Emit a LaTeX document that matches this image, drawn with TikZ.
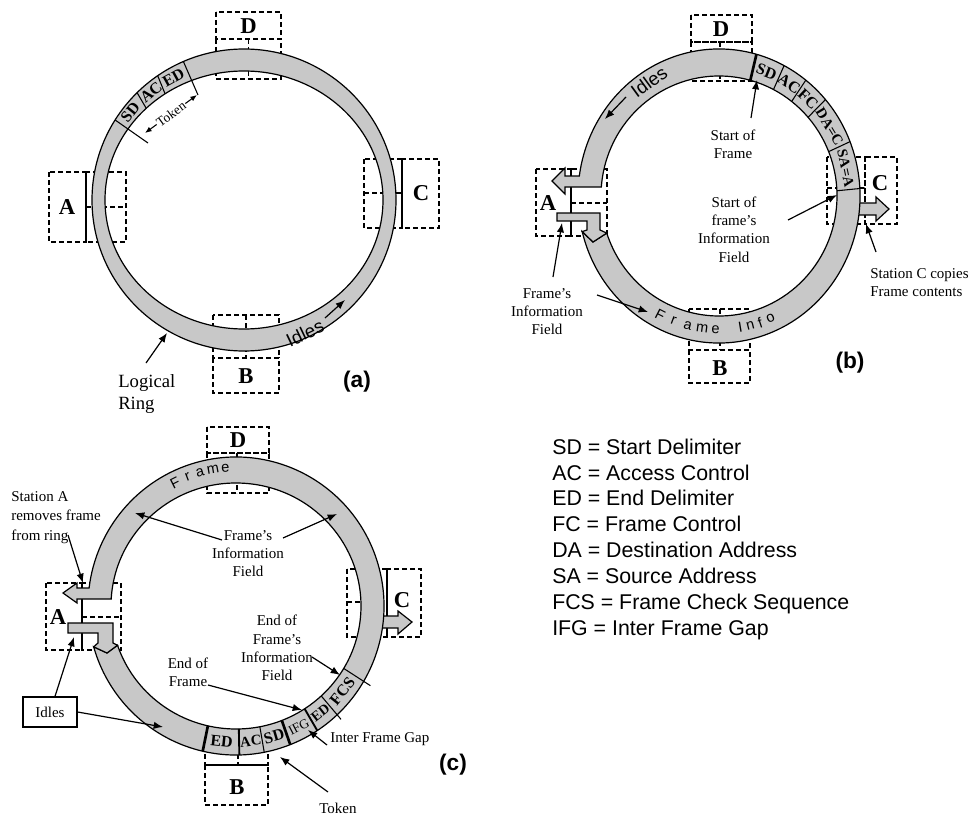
\documentclass[tikz,border=0pt]{standalone}
\usepackage{fontspec}
\setmainfont{Liberation Serif}
\setsansfont{Liberation Sans}
\usetikzlibrary{calc,arrows.meta}
\definecolor{ringgray}{RGB}{200,200,200}
\begin{document}
\begin{tikzpicture}[x=0.75pt,y=0.75pt,
 sbox/.style={draw, line width=0.9pt, dash pattern=on 3.5pt off 2.5pt},
 band/.style={fill=ringgray, draw=black, line width=0.9pt, line join=miter},
 segline/.style={line width=0.8pt},
 thickseg/.style={line width=2pt},
 stl/.style={font=\fontsize{17}{17}\selectfont\bfseries, inner sep=0pt},
 seg/.style={font=\fontsize{12}{12}\selectfont\bfseries, inner sep=0pt},
 lbl/.style={font=\fontsize{11.25}{13.75}\selectfont, align=center, inner sep=0pt},
 arr/.style={line width=0.9pt, -{Latex[length=7pt,width=5.5pt]}},
 tokarr/.style={line width=0.8pt, {Latex[length=5pt,width=4pt]}-{Latex[length=5pt,width=4pt]}},
 panel/.style={font=\sffamily\bfseries\fontsize{17}{17}\selectfont, inner sep=0pt},
 ringtxt/.style={font=\sffamily\fontsize{14}{14}\selectfont, inner sep=0pt},
 ltr/.style={font=\sffamily\fontsize{11}{11}\selectfont, inner sep=0pt},
 legline/.style={font=\sffamily\fontsize{16}{16}\selectfont, anchor=base west, inner sep=0pt},
]
\useasboundingbox (0,0) rectangle (972,-817);

%================ PANEL (a) ================
\coordinate (ca) at (244,-200);
% stations
\draw[sbox] (216,-12) rectangle (281,-39);
\draw[sbox] (216,-39) rectangle (281,-79);
\draw[sbox] (248.5,-39) -- (248.5,-79);
\draw[sbox] (49,-172) rectangle (86,-242);
\draw[sbox] (86,-172) rectangle (126,-242);
\draw[sbox] (86,-207) -- (126,-207);
\draw[sbox] (402,-159) rectangle (439,-228);
\draw[sbox] (364,-159) rectangle (402,-228);
\draw[sbox] (364,-193) -- (402,-193);
\draw[sbox] (213,-358) rectangle (279,-393);
\draw[sbox] (213,-315) rectangle (279,-358);
\draw[sbox] (246,-315) -- (246,-358);
% ring
\path[band, even odd rule] (ca) ellipse [x radius=152, y radius=151] (ca) ellipse [x radius=139, y radius=129];
% token segments
\draw[segline] ($(ca)+(148:152 and 151)$) -- (148,-143);
\draw[segline] ($(ca)+(134.7:139 and 129)$) -- ($(ca)+(134.7:152 and 151)$);
\draw[segline] ($(ca)+(124.6:139 and 129)$) -- ($(ca)+(124.6:152 and 151)$);
\draw[segline] ($(ca)+(113.5:152 and 151)$) -- (198,-95);
\node[seg, rotate=51.4] (aSD) at ($(ca)+(141.4:145.5 and 140)$) {SD};
\node[seg, rotate=39.7] (aAC) at ($(ca)+(129.7:145.5 and 140)$) {AC};
\node[seg, rotate=29] (aED) at ($(ca)+(119:145.5 and 140)$) {ED};
\coordinate (tokL) at (145,-133);
\coordinate (tokR) at (197,-95);
\draw[tokarr] (tokL) -- node[sloped, fill=white, inner sep=0.8pt, font=\fontsize{10}{10}\selectfont] (atok) {Token} (tokR);
% station labels
\node[stl] (aD) at (248.5,-26) {D};
\node[stl] (aA) at (67,-207) {A};
\node[stl] (aC) at (421,-193) {C};
\node[stl] (aB) at (246,-376) {B};
% idles
\node[ringtxt, rotate=25.5] (aidl) at (305,-333) {Idles};
\coordinate (aidlS) at (325,-318);
\coordinate (aidlT) at (345,-300);
\draw[arr] (aidlS) -- (aidlT);
% logical ring
\node[font=\fontsize{14}{16.5}\selectfont, align=left, anchor=west, inner sep=0pt] (alr) at (118,-394) {Logical\\Ring};
\coordinate (alrS) at (146,-363);
\coordinate (alrT) at (167,-333);
\draw[arr] (alrS) -- (alrT);
\node[panel] (pa) at (357,-382) {(a)};

%================ PANEL (b) ================
\coordinate (cb) at (719,-196);
\draw[sbox] (691,-15) rectangle (752,-42);
\draw[sbox] (691,-42) rectangle (752,-81);
\draw[sbox] (720,-42) -- (720,-81);
\draw[sbox] (689,-309) rectangle (750,-350);
\draw[sbox] (689,-350) rectangle (750,-383);
\draw[sbox] (720,-309) -- (720,-350);
\draw[sbox] (536,-169) rectangle (571,-236);
\draw[sbox] (571,-169) rectangle (607,-236);
\draw[sbox] (571,-203) -- (607,-203);
\draw[sbox] (865,-157) rectangle (897,-224);
\draw[sbox] (827,-157) rectangle (865,-224);
\draw[sbox] (827,-188) -- (865,-188);
% C copy arrow
\path[band] (845,-203) -- (876,-203) -- (876,-197) -- (889,-209) -- (876,-221) -- (876,-215) -- (845,-215) -- cycle;
% ring band
\path[band] ($(cb)+(194:141 and 147)$) coordinate (bo1)
  arc[start angle=194, end angle=532.2, x radius=141, y radius=147]
  -- (565,-176) -- (565,-168) -- (552,-181) -- (565,-194) -- (565,-187)
  -- ($(cb)+(535.7:118 and 120)$)
  arc[start angle=535.7, end angle=198, x radius=118, y radius=120] coordinate (bi1)
  -- (593,-242) -- cycle;
% stub from A
\path[band] (557,-213) -- (600,-213) -- (600,-230) -- (bi1) -- (593,-242) -- (bo1) -- (587,-230) -- (587,-221) -- (557,-221) -- cycle;
% frame segments
\draw[thickseg] ($(cb)+(74.6:118 and 120)$) -- ($(cb)+(74.6:141 and 147)$);
\foreach \a in {62.5,52,41,21.7}
  \draw[segline] ($(cb)+(\a:118 and 120)$) -- ($(cb)+(\a:141 and 147)$);
\draw[segline] ($(cb)+(2.5:118 and 120)$) -- (865,-188);
\node[seg, rotate=-21.5] (bSD) at ($(cb)+(68.5:129.5 and 133.5)$) {SD};
\node[seg, rotate=-32.8] (bAC) at ($(cb)+(57.2:129.5 and 133.5)$) {AC};
\node[seg, rotate=-43.5] (bFC) at ($(cb)+(46.5:129.5 and 133.5)$) {FC};
\node[seg, font=\fontsize{11}{11}\selectfont\bfseries, rotate=-58.7] (bDA) at ($(cb)+(31.3:129.5 and 133.5)$) {DA=C};
\node[seg, font=\fontsize{11}{11}\selectfont\bfseries, rotate=-78] (bSA) at ($(cb)+(12:129.5 and 133.5)$) {SA=A};
% Frame Info text
\foreach \ch/\ang [count=\i] in {F/243,r/249.5,a/256,m/262.5,e/268.5,I/279.5,n/284,f/288.5,o/293.5}
  \node[ltr, rotate=\ang+90] (fi\i) at ($(cb)+(\ang:129.5 and 133.5)$) {\ch};
% station labels
\node[stl] (bD) at (721,-29) {D};
\node[stl] (bB) at (720,-368) {B};
\node[stl] (bA) at (548,-203) {A};
\node[stl] (bC) at (880,-183) {C};
% idles
\node[ringtxt, rotate=36] (bidl) at (649,-82) {Idles};
\coordinate (bidlS) at (626,-97);
\coordinate (bidlT) at (605,-119);
\draw[arr] (bidlS) -- (bidlT);
% labels
\node[lbl] (bsof) at (733,-144) {Start of\\Frame};
\coordinate (bsofS) at (751,-118);
\coordinate (bsofT) at (757,-80);
\draw[arr] (bsofS) -- (bsofT);
\node[lbl] (bsofi) at (734,-229.5) {Start of\\frame's\\Information\\Field};
\coordinate (bsofiS) at (788,-220);
\coordinate (bsofiT) at (837,-195);
\draw[arr] (bsofiS) -- (bsofiT);
\node[lbl, align=left, anchor=west] (bscc) at (870,-282.5) {Station C copies\\Frame contents};
\coordinate (bsccS) at (876,-252);
\coordinate (bsccT) at (866,-224);
\draw[arr] (bsccS) -- (bsccT);
\node[lbl] (bfif) at (547,-311.5) {Frame's\\Information\\Field};
\coordinate (bfifS1) at (553,-277);
\coordinate (bfifT1) at (562,-223);
\draw[arr] (bfifS1) -- (bfifT1);
\coordinate (bfifS2) at (597,-295);
\coordinate (bfifT2) at (648,-312);
\draw[arr] (bfifS2) -- (bfifT2);
\node[panel] (pb) at (850,-363) {(b)};

%================ PANEL (c) ================
\coordinate (cc) at (236,-606);
\draw[sbox] (207,-427) rectangle (269,-453);
\draw[sbox] (207,-453) rectangle (269,-493);
\draw[sbox] (237,-453) -- (237,-493);
\draw[sbox] (205,-730) rectangle (268,-765);
\draw[sbox] (205,-765) rectangle (268,-805);
\draw[sbox] (238,-730) -- (238,-765);
\draw[sbox] (46,-583) rectangle (82,-650);
\draw[sbox] (82,-583) rectangle (121,-650);
\draw[sbox] (82,-617) -- (121,-617);
\draw[sbox] (387,-569) rectangle (421,-637);
\draw[sbox] (347,-569) rectangle (387,-637);
\draw[sbox] (347,-602) -- (387,-602);
% C arrow
\path[band] (370,-616) -- (398,-616) -- (398,-611) -- (412,-622) -- (398,-634) -- (398,-628) -- (370,-628) -- cycle;
% ring band
\path[band] ($(cc)+(195.9:148 and 149)$) coordinate (co1)
  arc[start angle=195.9, end angle=533.06, x radius=148, y radius=149]
  -- (77,-588) -- (77,-583) -- (63,-593) -- (77,-603) -- (77,-599)
  -- ($(cc)+(536.74:125 and 123)$)
  arc[start angle=536.74, end angle=198.6, x radius=125, y radius=123] coordinate (ci1)
  -- (107,-653) -- cycle;
% stub from A
\path[band] (68,-623) -- (113,-623) -- (113,-643) -- (ci1) -- (107,-653) -- (co1) -- (98,-643) -- (98,-633) -- (68,-633) -- cycle;
% segments
\draw[thickseg] ($(cc)+(257:125 and 123)$) -- ($(cc)+(257:148 and 149)$);
\draw[line width=1.4pt] ($(cc)+(271.3:125 and 123)$) -- ($(cc)+(271.3:148 and 149)$);
\draw[segline] ($(cc)+(281:125 and 123)$) -- ($(cc)+(281:148 and 149)$);
\draw[thickseg] ($(cc)+(291.5:125 and 123)$) -- ($(cc)+(291.5:148 and 149)$);
\draw[line width=1.4pt] ($(cc)+(303.3:125 and 123)$) -- ($(cc)+(303.3:148 and 149)$);
\draw[segline] ($(cc)+(313:125 and 123)$) -- ($(cc)+(313:154 and 155)$);
\draw[segline] ($(cc)+(329.5:125 and 123)$) -- ($(cc)+(329.5:156 and 157)$);
\node[seg, rotate=-6] (cED1) at ($(cc)+(264:136.5 and 136)$) {ED};
\node[seg, font=\fontsize{11}{11}\selectfont\bfseries, rotate=6.2] (cAC) at ($(cc)+(276.2:136.5 and 136)$) {AC};
\node[seg, rotate=16.2] (cSD) at ($(cc)+(286.2:136.5 and 136)$) {SD};
\node[inner sep=0pt, font=\fontsize{10}{10}\selectfont, rotate=27.4] (cIFG) at ($(cc)+(297.4:136.5 and 136)$) {IFG};
\node[seg, font=\fontsize{10.5}{10.5}\selectfont\bfseries, rotate=38.2] (cED2) at ($(cc)+(308.2:136.5 and 136)$) {ED};
\node[seg, rotate=51.2] (cFCS) at ($(cc)+(321.2:136.5 and 136)$) {FCS};
% Frame text
\foreach \ch/\ang [count=\i] in {F/116.6,r/110.8,a/105.3,m/99.7,e/94.5}
  \node[ltr, rotate=\ang-90] (fc\i) at ($(cc)+(\ang:136 and 138)$) {\ch};
% station labels
\node[stl] (cD) at (238,-440) {D};
\node[stl] (cB) at (237,-787) {B};
\node[stl] (cA) at (58,-617) {A};
\node[stl] (cC) at (402,-600) {C};
% labels
\node[lbl, font=\fontsize{11.25}{14.6}\selectfont, align=left, anchor=west] (csar) at (11,-517.5) {Station A\\removes frame\\from ring};
\coordinate (csarS) at (68,-535);
\coordinate (csarT) at (83,-583);
\draw[arr] (csarS) -- (csarT);
\node[lbl] (cfif) at (248,-553.5) {Frame's\\Information\\Field};
\coordinate (cfifS1) at (222,-540);
\coordinate (cfifT1) at (135,-513);
\draw[arr] (cfifS1) -- (cfifT1);
\coordinate (cfifS2) at (283,-538);
\coordinate (cfifT2) at (337,-514);
\draw[arr] (cfifS2) -- (cfifT2);
\node[lbl] (ceofi) at (277,-648) {End of\\Frame's\\Information\\Field};
\coordinate (ceofiS) at (312,-657);
\coordinate (ceofiT) at (340,-675);
\draw[arr] (ceofiS) -- (ceofiT);
\node[lbl] (ceof) at (188,-672.5) {End of\\Frame};
\coordinate (ceofS) at (208,-685);
\coordinate (ceofT) at (302,-710);
\draw[arr] (ceofS) -- (ceofT);
\node[lbl, draw, line width=0.9pt, minimum width=40.5pt, minimum height=22.5pt] (cidl) at (50,-712) {Idles};
\coordinate (cidlT1) at (74,-637);
\coordinate (cidlT2) at (163,-727);
\draw[arr] (cidl.north) ++(5,0) -- (cidlT1);
\draw[arr] (cidl.east) -- (cidlT2);
\node[lbl, anchor=west] (cifg) at (330,-739) {Inter Frame Gap};
\coordinate (cifgS) at (327,-745);
\coordinate (cifgT) at (308,-730);
\draw[arr] (cifgS) -- (cifgT);
\node[lbl] (ctok) at (338,-808) {Token};
\coordinate (ctokS) at (328,-792);
\coordinate (ctokT) at (280,-757);
\draw[arr] (ctokS) -- (ctokT);
\node[panel] (pc) at (453,-765) {(c)};

%================ LEGEND ================
\node[legline] (l1) at (552,-454) {SD = Start Delimiter};
\node[legline] (l2) at (552,-480) {AC = Access Control};
\node[legline] (l3) at (552,-505.5) {ED = End Delimiter};
\node[legline] (l4) at (552,-531) {FC = Frame Control};
\node[legline] (l5) at (552,-557) {DA = Destination Address};
\node[legline] (l6) at (552,-583) {SA = Source Address};
\node[legline] (l7) at (552,-609) {FCS = Frame Check Sequence};
\node[legline] (l8) at (552,-635) {IFG = Inter Frame Gap};
\end{tikzpicture}
\end{document}
